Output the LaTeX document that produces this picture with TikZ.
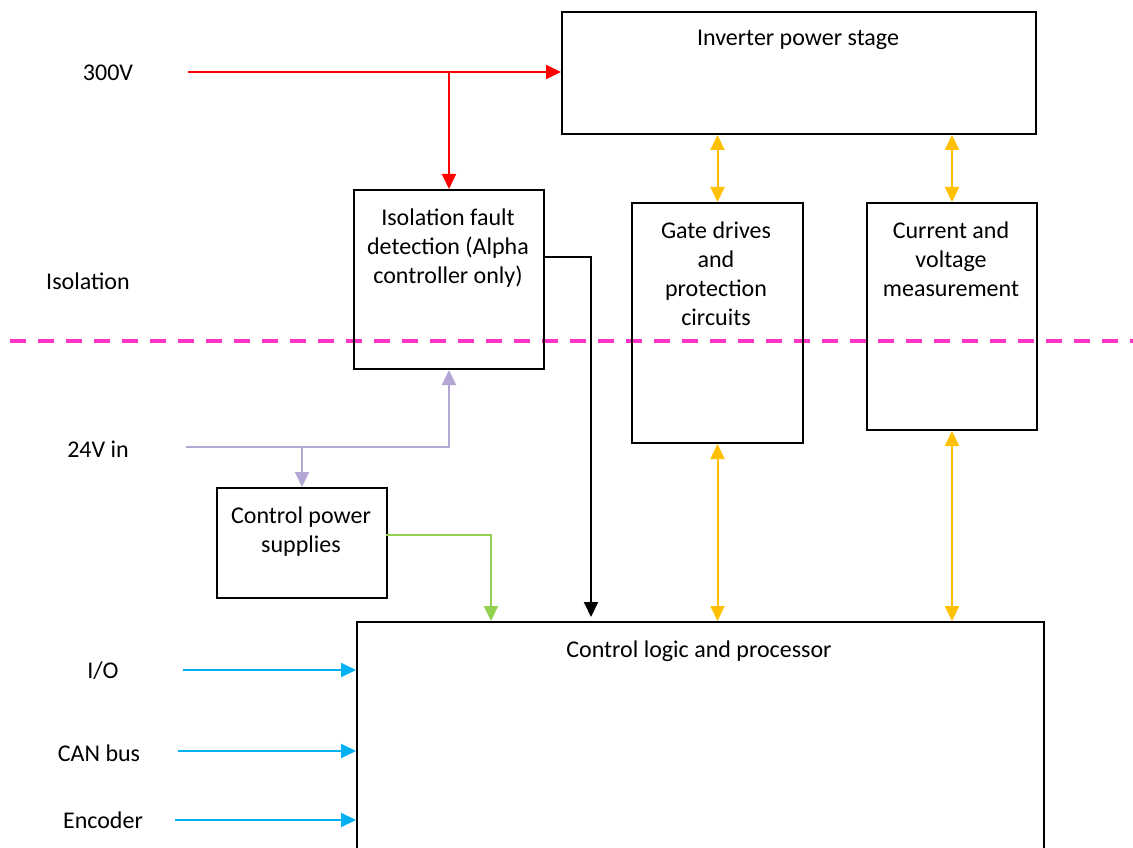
\documentclass[tikz,border=0pt]{standalone}
\usepackage{fontspec}
\setmainfont{Carlito}
\usetikzlibrary{arrows.meta}
\definecolor{cred}{HTML}{FF0000}
\definecolor{corange}{HTML}{FFC000}
\definecolor{clav}{HTML}{B4A7D6}
\definecolor{cgreen}{HTML}{92D050}
\definecolor{cblue}{HTML}{00B0F0}
\definecolor{cmag}{HTML}{FF33CC}
\tikzset{
  blk/.style={draw=black, line width=2pt, anchor=north west, inner sep=0pt},
  txt/.style={align=center, inner sep=0pt, font=\fontsize{24}{29}\selectfont},
  conn/.style={line width=2pt, -{Triangle[length=15pt,width=14pt]}},
  dconn/.style={line width=2pt, {Triangle[length=15pt,width=14pt]}-{Triangle[length=15pt,width=14pt]}},
}
\begin{document}
\begin{tikzpicture}[x=1pt,y=-1pt]
\useasboundingbox (0,0) rectangle (1133,848);
\clip (0,0) rectangle (1133,848);
% isolation barrier
\draw[cmag, line width=4pt, dash pattern=on 16pt off 12pt] (10,341) -- (1133,341);
% boxes
\node[blk, minimum width=474pt, minimum height=122pt] (inv) at (561,11) {};
\node[blk, minimum width=190pt, minimum height=179pt] (iso) at (353,189) {};
\node[blk, minimum width=171pt, minimum height=240pt] (gate) at (631,202) {};
\node[blk, minimum width=170pt, minimum height=227pt] (cur) at (866,202) {};
\node[blk, minimum width=170pt, minimum height=110pt] (cps) at (216,487) {};
\node[blk, minimum width=687pt, minimum height=260pt] (ctrl) at (356,621) {};
% box texts
\node[txt, anchor=base] (invt) at (798,46) {Inverter power stage};
\node[txt, anchor=north] (isot) at (448,209) {Isolation fault\\detection (Alpha\\controller only)};
\node[txt, anchor=north] (gatet) at (716,222) {Gate drives\\and\\protection\\circuits};
\node[txt, anchor=north] (curt) at (951,222) {Current and\\voltage\\measurement};
\node[txt, anchor=north] (cpst) at (301,507) {Control power\\supplies};
\node[txt, anchor=base] (ctrlt) at (699,657) {Control logic and processor};
% side labels
\node[txt] (l300) at (108,73) {300V};
\node[txt] (liso) at (88,281) {Isolation};
\node[txt] (l24) at (98,449) {24V in};
\node[txt] (lio) at (103,671) {I/O};
\node[txt] (lcan) at (99,753) {CAN bus};
\node[txt] (lenc) at (103,820) {Encoder};
% connector coordinates
\coordinate (s300) at (188,72);
\coordinate (s24) at (186,447);
\coordinate (sgr) at (386,535);
\coordinate (gr) at (491,535);
\coordinate (sbk) at (543,257);
\coordinate (bk) at (591,257);
\coordinate (bkend) at (591,617);
\coordinate (sio) at (183,670);
\coordinate (scan) at (178,751);
\coordinate (senc) at (175,820);
% red 300V
\draw[conn, cred] (s300) -- (s300 -| inv.west);
\draw[conn, cred] (iso.north |- s300) -- (iso.north);
% orange
\draw[dconn, corange] (gate.north |- inv.south) -- (gate.north);
\draw[dconn, corange] (cur.north |- inv.south) -- (cur.north);
\draw[dconn, corange] (gate.south) -- (gate.south |- ctrl.north);
\draw[dconn, corange] (cur.south) -- (cur.south |- ctrl.north);
% lavender 24V
\draw[conn, clav] (s24) -- (s24 -| iso.south) -- (iso.south);
\draw[conn, clav] (s24 -| cps.north) -- (cps.north);
% green
\draw[conn, cgreen] (sgr) -- (gr) -- (gr |- ctrl.north);
% black
\draw[conn, black] (sbk) -- (bk) -- (bkend);
% blue
\draw[conn, cblue] (sio) -- (sio -| ctrl.west);
\draw[conn, cblue] (scan) -- (scan -| ctrl.west);
\draw[conn, cblue] (senc) -- (senc -| ctrl.west);
\end{tikzpicture}
\end{document}
